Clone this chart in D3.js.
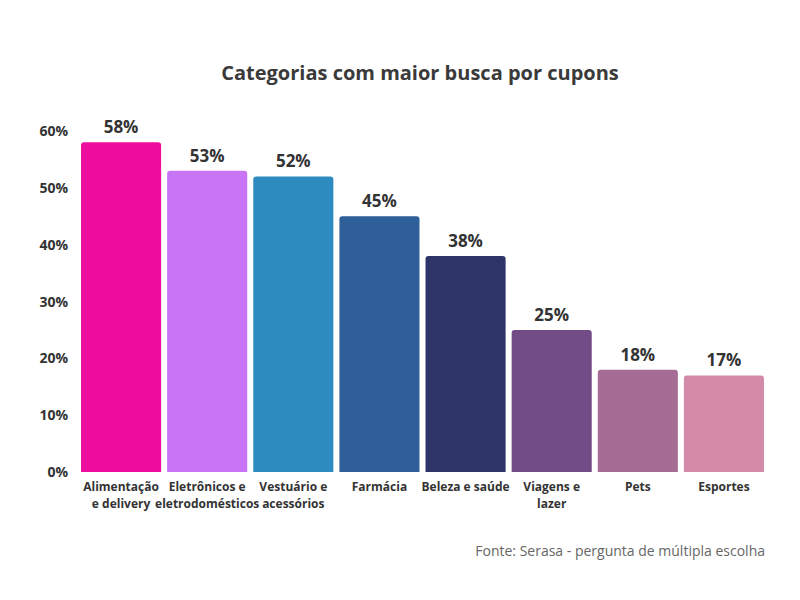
<!DOCTYPE html>
<html><head><meta charset="utf-8">
<script src="https://cdn.jsdelivr.net/npm/d3@7"></script>
<style>body{margin:0;background:#fff;font-family:'Open Sans',sans-serif;}</style>
</head><body><svg id="c" width="800" height="600"></svg>
<script>
const categories = [["Alimentação","e delivery"],["Eletrônicos e","eletrodomésticos"],["Vestuário e","acessórios"],["Farmácia"],["Beleza e saúde"],["Viagens e","lazer"],["Pets"],["Esportes"]];
const values = [58,53,52,45,38,25,18,17];
const colors = ["#EE0E9E","#C774F7","#2E8BBF","#2E5F98","#2E3468","#714C87","#A56C96","#D48BA7"];
const yTicks = [0,10,20,30,40,50,60];

const svg = d3.select("#c");
const x = d3.scaleBand().domain(d3.range(values.length)).range([78,767]).paddingInner(0.07).paddingOuter(0.035);
const y = d3.scaleLinear().domain([0,60]).range([472,131]);

svg.append("text").attr("x",420).attr("y",80).attr("text-anchor","middle")
  .attr("font-size",20).attr("font-weight",700).attr("fill","#3a3a3a").text("Categorias com maior busca por cupons");

svg.selectAll(".yt").data(yTicks).enter().append("text")
  .attr("x",68).attr("y",d=>y(d)+5).attr("text-anchor","end")
  .attr("font-size",14).attr("font-weight",700).attr("fill","#333").text(d=>d+"%");

svg.selectAll(".bar").data(values).enter().append("path")
  .attr("fill",(d,i)=>colors[i])
  .attr("d",(d,i)=>{const x0=x(i),w=x.bandwidth(),t=y(d),b=y(0),r=3;
    return `M${x0},${b}V${t+r}Q${x0},${t} ${x0+r},${t}H${x0+w-r}Q${x0+w},${t} ${x0+w},${t+r}V${b}Z`;});

svg.selectAll(".vl").data(values).enter().append("text")
  .attr("x",(d,i)=>x(i)+x.bandwidth()/2).attr("y",d=>y(d)-9).attr("text-anchor","middle")
  .attr("font-size",17).attr("font-weight",700).attr("fill","#333").text(d=>d+"%");

const cl = svg.selectAll(".cl").data(categories).enter().append("text")
  .attr("text-anchor","middle").attr("font-size",12).attr("font-weight",700).attr("fill","#333");
cl.each(function(lines,i){
  d3.select(this).selectAll("tspan").data(lines).enter().append("tspan")
    .attr("x",x(i)+x.bandwidth()/2).attr("y",(d,j)=>491+j*17).text(d=>d);
});

svg.append("text").attr("x",765).attr("y",556).attr("text-anchor","end")
  .attr("font-size",14).attr("fill","#666").text("Fonte: Serasa - pergunta de múltipla escolha");
</script></body></html>
